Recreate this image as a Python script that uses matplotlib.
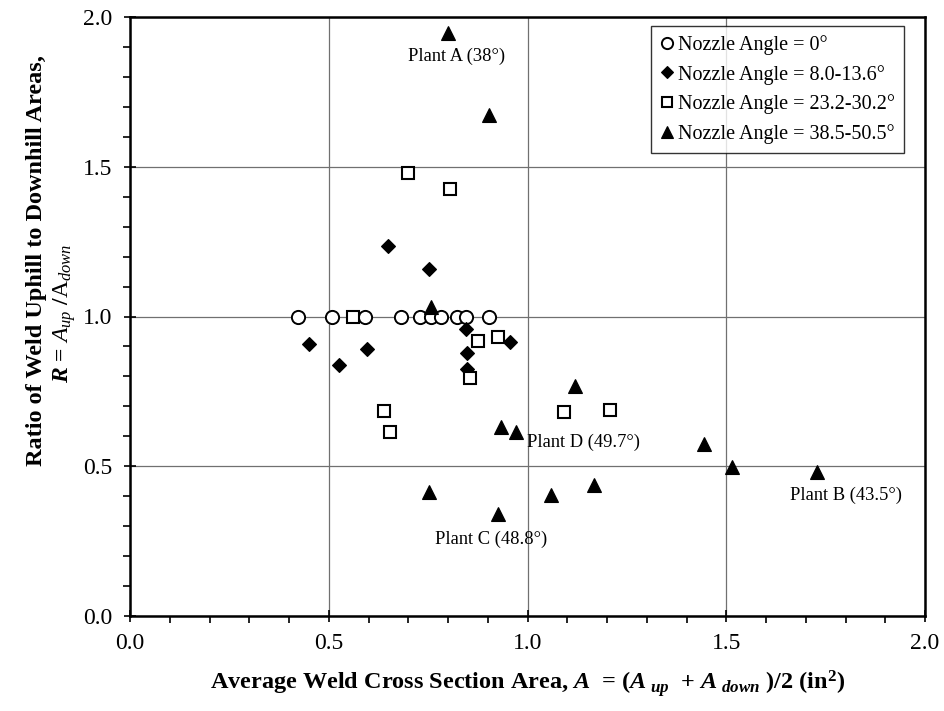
import matplotlib
matplotlib.use("Agg")
import matplotlib.pyplot as plt
from matplotlib.ticker import MultipleLocator

plt.rcParams['font.family'] = ['Liberation Serif', 'DejaVu Serif']
plt.rcParams['mathtext.fontset'] = 'custom'
plt.rcParams['mathtext.rm'] = 'Liberation Serif'
plt.rcParams['mathtext.it'] = 'Liberation Serif:italic'
plt.rcParams['mathtext.bf'] = 'Liberation Serif:bold'
plt.rcParams['mathtext.bfit'] = 'Liberation Serif:bold:italic'

# ---- data ----
circ_x = [0.423, 0.508, 0.590, 0.681, 0.729, 0.758, 0.782, 0.822, 0.845, 0.902]
circ_y = [1.000, 1.000, 1.000, 1.000, 1.000, 1.000, 1.000, 1.000, 1.000, 1.000]

dia_x = [0.451, 0.527, 0.597, 0.649, 0.751, 0.845, 0.847, 0.849, 0.955]
dia_y = [0.907, 0.837, 0.893, 1.234, 1.159, 0.957, 0.879, 0.826, 0.914]

sq_x = [0.561, 0.639, 0.653, 0.699, 0.805, 0.855, 0.876, 0.925, 1.092, 1.207]
sq_y = [0.997, 0.686, 0.614, 1.478, 1.426, 0.794, 0.919, 0.931, 0.682, 0.688]

tri_x = [0.751, 0.758, 0.800, 0.902, 0.927, 0.934, 0.971, 1.060, 1.119, 1.167, 1.444, 1.514, 1.729]
tri_y = [0.414, 1.032, 1.948, 1.673, 0.340, 0.632, 0.614, 0.404, 0.768, 0.438, 0.573, 0.499, 0.482]

series_labels = ["Nozzle Angle = 0°", "Nozzle Angle = 8.0-13.6°",
                 "Nozzle Angle = 23.2-30.2°", "Nozzle Angle = 38.5-50.5°"]

plant_labels = ["Plant A (38°)", "Plant D (49.7°)", "Plant B (43.5°)", "Plant C (48.8°)"]
plant_x = [0.822, 0.998, 1.660, 0.909]
plant_y = [1.868, 0.581, 0.403, 0.257]
plant_ha = ["center", "left", "left", "center"]

x_ticks = [0.0, 0.5, 1.0, 1.5, 2.0]
y_ticks = [0.0, 0.5, 1.0, 1.5, 2.0]

# ---- figure ----
W, H = 944, 711
fig = plt.figure(figsize=(W / 100, H / 100), dpi=100)
L, R, T, B = 130, 925, 17, 616
ax = fig.add_axes([L / W, (H - B) / H, (R - L) / W, (B - T) / H])

ax.set_xlim(0, 2.0)
ax.set_ylim(0, 2.0)
ax.set_xticks(x_ticks)
ax.set_yticks(y_ticks)
ax.set_xticklabels([f"{v:.1f}" for v in x_ticks])
ax.set_yticklabels([f"{v:.1f}" for v in y_ticks])
ax.xaxis.set_minor_locator(MultipleLocator(0.1))
ax.yaxis.set_minor_locator(MultipleLocator(0.1))
ax.tick_params(which='major', direction='inout', length=9, width=1.2, labelsize=17, pad=8, colors='black')
ax.tick_params(which='minor', direction='out', length=5, width=1.2)
ax.grid(True, which='major', color='#707070', linewidth=0.9)
ax.set_axisbelow(True)
for s in ax.spines.values():
    s.set_linewidth(1.8)
    s.set_color('black')

h1, = ax.plot(circ_x, circ_y, linestyle='none', marker='o', markersize=9.5,
              markerfacecolor='white', markeredgecolor='black', markeredgewidth=1.4,
              label=series_labels[0], zorder=3)
h2, = ax.plot(dia_x, dia_y, linestyle='none', marker='D', markersize=7.2,
              markerfacecolor='black', markeredgecolor='black', markeredgewidth=0.8,
              label=series_labels[1], zorder=3)
h3, = ax.plot(sq_x, sq_y, linestyle='none', marker='s', markersize=9.2,
              markerfacecolor='white', markeredgecolor='black', markeredgewidth=1.5,
              label=series_labels[2], zorder=3)
h4, = ax.plot(tri_x, tri_y, linestyle='none', marker='^', markersize=10.5,
              markerfacecolor='black', markeredgecolor='black', markeredgewidth=0.8,
              label=series_labels[3], zorder=3)

for t, x, y, ha in zip(plant_labels, plant_x, plant_y, plant_ha):
    ax.text(x, y, t, ha=ha, va='center', fontsize=13.3, color='black', zorder=4)

leg = ax.legend(handles=[h1, h2, h3, h4], loc='upper right',
                bbox_to_anchor=(0.9736, 0.985), fontsize=14.5, frameon=True,
                fancybox=False, shadow=False, markerscale=0.85,
                handlelength=0.7, handletextpad=0.2, borderpad=0.45,
                labelspacing=0.48, borderaxespad=0.0)
leg.get_frame().set_edgecolor('black')
leg.get_frame().set_linewidth(1.0)
leg.set_zorder(5)

ax.set_xlabel(r'Average Weld Cross Section Area, $\mathbfit{A}$  = ($\mathbfit{A}_{\ \mathbfit{up}}$  + $\mathbfit{A}_{\ \mathbfit{down}}$ )/2 (in$^{\mathbf{2}}$)',
              fontsize=17.5, fontweight='bold', labelpad=10)

fig.text(37 / W, 1 - 261 / H, 'Ratio of Weld Uphill to Downhill Areas,',
         rotation=90, ha='center', va='center', fontsize=17.5, fontweight='bold')
fig.text(65 / W, 1 - 313 / H, r'$\mathbfit{R}$ = $A_{up}$ /$\mathrm{A}_{down}$',
         rotation=90, ha='center', va='center', fontsize=17, fontweight='bold')

fig.savefig('out.png', dpi=100)
